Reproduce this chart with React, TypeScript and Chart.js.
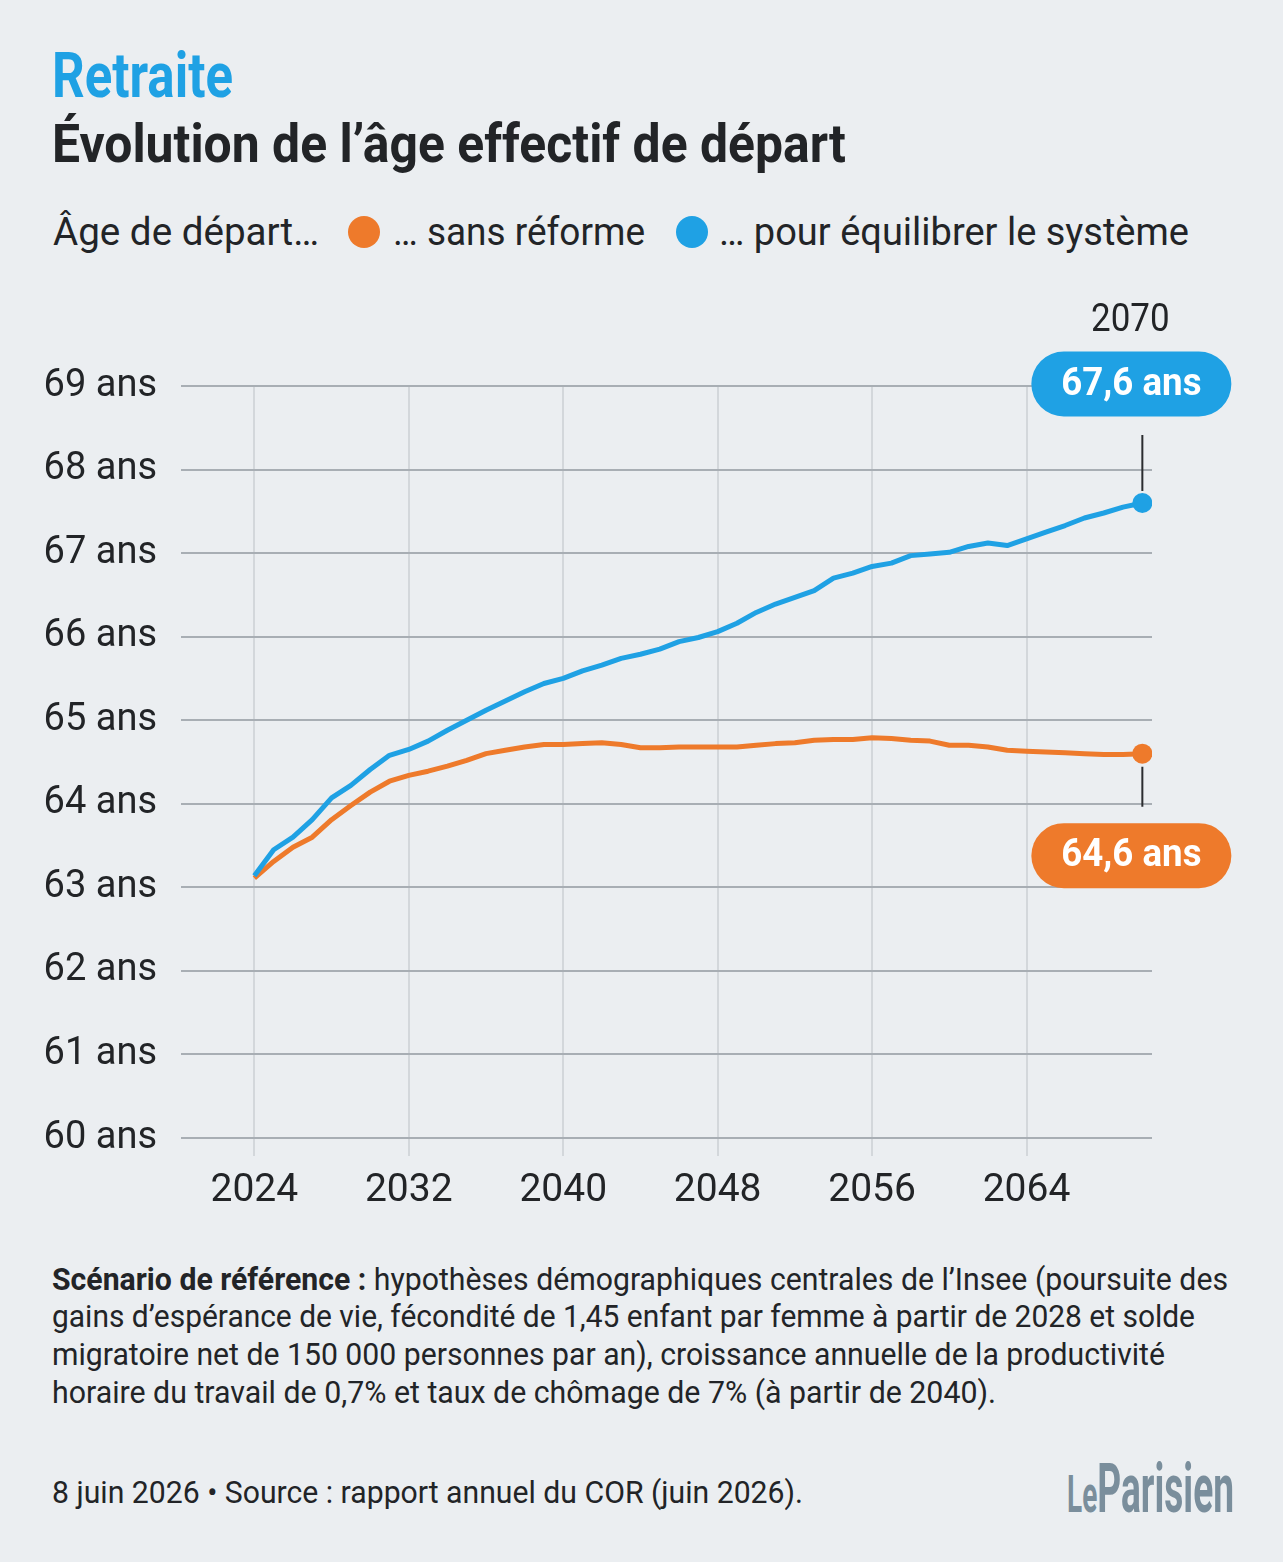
import React, { useEffect, useLayoutEffect, useRef } from "react";
import { Chart, registerables } from "chart.js";

Chart.register(...registerables);

// Years of the projection
const YEARS = [
  2024, 2025, 2026, 2027, 2028, 2029, 2030, 2031, 2032, 2033, 2034, 2035,
  2036, 2037, 2038, 2039, 2040, 2041, 2042, 2043, 2044, 2045, 2046, 2047,
  2048, 2049, 2050, 2051, 2052, 2053, 2054, 2055, 2056, 2057, 2058, 2059,
  2060, 2061, 2062, 2063, 2064, 2065, 2066, 2067, 2068, 2069, 2070,
];

// Effective retirement age needed to balance the system
const AGE_EQUILIBRE = [
  63.14, 63.45, 63.6, 63.81, 64.07, 64.22, 64.41, 64.58, 64.65, 64.75, 64.88, 65.0,
  65.12, 65.23, 65.34, 65.44, 65.5, 65.59, 65.66, 65.74, 65.79, 65.85, 65.94, 65.99,
  66.06, 66.16, 66.29, 66.39, 66.47, 66.55, 66.7, 66.76, 66.84, 66.88, 66.97, 66.99,
  67.01, 67.08, 67.12, 67.09, 67.17, 67.25, 67.33, 67.42, 67.48, 67.55, 67.6,
];

// Effective retirement age without reform
const AGE_SANS_REFORME = [
  63.11, 63.31, 63.48, 63.6, 63.81, 63.98, 64.14, 64.27, 64.34, 64.39, 64.45, 64.52,
  64.6, 64.64, 64.68, 64.71, 64.71, 64.72, 64.73, 64.71, 64.67, 64.67, 64.68, 64.68,
  64.68, 64.68, 64.7, 64.72, 64.73, 64.76, 64.77, 64.77, 64.79, 64.78, 64.76, 64.75,
  64.7, 64.7, 64.68, 64.64, 64.63, 64.62, 64.61, 64.6, 64.59, 64.59, 64.6,
];

const X_TICKS = [2024, 2032, 2040, 2048, 2056, 2064];
const Y_TICKS = [60, 61, 62, 63, 64, 65, 66, 67, 68, 69];

const BLUE = "#1fa1e4";
const ORANGE = "#ee7a2b";
const BG = "#ebeef1";
const INK = "#222427";

const ROBOTO = "Roboto, 'Noto Sans', sans-serif";

const fmtAge = (v: number) => v.toFixed(1).replace(".", ",") + " ans";

function roundRect(ctx: CanvasRenderingContext2D, x: number, y: number, w: number, h: number, r: number) {
  ctx.beginPath();
  ctx.moveTo(x + r, y);
  ctx.lineTo(x + w - r, y);
  ctx.arc(x + w - r, y + r, r, -Math.PI / 2, 0);
  ctx.lineTo(x + w, y + h - r);
  ctx.arc(x + w - r, y + h - r, r, 0, Math.PI / 2);
  ctx.lineTo(x + r, y + h);
  ctx.arc(x + r, y + h - r, r, Math.PI / 2, Math.PI);
  ctx.lineTo(x, y + r);
  ctx.arc(x + r, y + r, r, Math.PI, Math.PI * 1.5);
  ctx.closePath();
}

function condensedText(ctx: CanvasRenderingContext2D, text: string, x: number, y: number, sx: number) {
  ctx.save();
  ctx.translate(x, y);
  ctx.scale(sx, 1);
  ctx.fillText(text, 0, 0);
  ctx.restore();
}

// Draws the final-year labels: year on top, value pills joined to the end points
const endLabels = {
  id: "endLabels",
  afterDatasetsDraw(chart: any) {
    const ctx: CanvasRenderingContext2D = chart.ctx;
    const last = YEARS.length - 1;
    const pB = chart.getDatasetMeta(0).data[last];
    const pO = chart.getDatasetMeta(1).data[last];
    const pillW = 200;
    const pillH = 65;
    ctx.save();

    // connectors
    ctx.strokeStyle = "#2b2d30";
    ctx.lineWidth = 2;
    ctx.beginPath();
    ctx.moveTo(pB.x, pB.y - 68);
    ctx.lineTo(pB.x, pB.y - 12);
    ctx.moveTo(pO.x, pO.y + 13);
    ctx.lineTo(pO.x, pO.y + 53);
    ctx.stroke();

    // year
    ctx.fillStyle = INK;
    ctx.font = `38px ${ROBOTO}`;
    ctx.textAlign = "center";
    ctx.textBaseline = "middle";
    condensedText(ctx, String(YEARS[last]), pB.x - 12, pB.y - 181, 0.92);

    // blue pill
    const bcx = pB.x - 11;
    const bcy = pB.y - 119;
    roundRect(ctx, bcx - pillW / 2, bcy - pillH / 2, pillW, pillH, pillH / 2);
    ctx.fillStyle = BLUE;
    ctx.fill();
    ctx.fillStyle = "#ffffff";
    ctx.font = `bold 39px ${ROBOTO}`;
    condensedText(ctx, fmtAge(AGE_EQUILIBRE[last]), bcx, bcy + 1, 0.94);

    // orange pill
    const ocx = pO.x - 11;
    const ocy = pO.y + 102;
    roundRect(ctx, ocx - pillW / 2, ocy - pillH / 2, pillW, pillH, pillH / 2);
    ctx.fillStyle = ORANGE;
    ctx.fill();
    ctx.fillStyle = "#ffffff";
    condensedText(ctx, fmtAge(AGE_SANS_REFORME[last]), ocx, ocy + 1, 0.94);

    ctx.restore();
  },
};

// Text squeezed horizontally to a given width (condensed look)
function Fit(props: {
  left: number;
  top: number;
  width: number;
  size: number;
  weight?: number;
  color?: string;
  children: React.ReactNode;
}) {
  const ref = useRef<HTMLSpanElement | null>(null);
  useLayoutEffect(() => {
    const el = ref.current;
    if (!el) return;
    el.style.transform = "none";
    const w = el.getBoundingClientRect().width;
    if (w > 0) el.style.transform = `scaleX(${props.width / w})`;
  });
  return (
    <span
      ref={ref}
      style={{
        position: "absolute",
        left: props.left,
        top: props.top,
        display: "inline-block",
        whiteSpace: "nowrap",
        transformOrigin: "left top",
        fontFamily: ROBOTO,
        fontSize: props.size,
        lineHeight: `${props.size}px`,
        fontWeight: props.weight ?? 400,
        color: props.color ?? INK,
      }}
    >
      {props.children}
    </span>
  );
}

export default function App() {
  const canvasRef = useRef<HTMLCanvasElement | null>(null);

  useEffect(() => {
    const canvas = canvasRef.current;
    if (!canvas) return;
    const last = YEARS.length - 1;
    const endRadius = (c: any) => (c.dataIndex === last ? 10 : 0);

    const chart = new Chart(canvas, {
      type: "line",
      data: {
        datasets: [
          {
            label: "… pour équilibrer le système",
            data: YEARS.map((x, i) => ({ x, y: AGE_EQUILIBRE[i] })),
            borderColor: BLUE,
            backgroundColor: BLUE,
            borderWidth: 5,
            pointRadius: endRadius,
            pointBorderWidth: 0,
            pointHoverRadius: endRadius,
            borderJoinStyle: "round",
            tension: 0,
          },
          {
            label: "… sans réforme",
            data: YEARS.map((x, i) => ({ x, y: AGE_SANS_REFORME[i] })),
            borderColor: ORANGE,
            backgroundColor: ORANGE,
            borderWidth: 5,
            pointRadius: endRadius,
            pointBorderWidth: 0,
            pointHoverRadius: endRadius,
            borderJoinStyle: "round",
            tension: 0,
          },
        ],
      },
      options: {
        responsive: false,
        animation: false,
        events: [],
        layout: { padding: { top: 106, right: 131, bottom: 2, left: 0 } },
        plugins: {
          legend: { display: false },
          tooltip: { enabled: false },
          title: { display: false },
        },
        scales: {
          x: {
            type: "linear",
            min: 2020.2,
            max: 2070.5,
            afterFit: (s: any) => {
              s.height = 100;
            },
            afterBuildTicks: (s: any) => {
              s.ticks = X_TICKS.map((v) => ({ value: v }));
            },
            border: { display: false },
            grid: {
              color: "#d3d7db",
              lineWidth: 2,
              drawTicks: true,
              tickLength: 18,
              tickColor: "#d3d7db",
            },
            ticks: {
              font: { family: ROBOTO, size: 39 },
              color: INK,
              padding: 12,
              maxRotation: 0,
              callback: (v: any) => String(v),
            },
          },
          y: {
            type: "linear",
            min: 60,
            max: 69,
            afterFit: (s: any) => {
              s.width = 181;
            },
            afterBuildTicks: (s: any) => {
              s.ticks = Y_TICKS.map((v) => ({ value: v }));
            },
            border: { display: false },
            grid: {
              color: "#a8aeb4",
              lineWidth: 2,
              drawTicks: false,
            },
            ticks: {
              font: { family: ROBOTO, size: 38 },
              color: INK,
              padding: 24,
              callback: (v: any) => `${v} ans`,
            },
          },
        },
      },
      plugins: [endLabels],
    } as any);

    return () => chart.destroy();
  }, []);

  const dot = (left: number, color: string): React.CSSProperties => ({
    position: "absolute",
    left,
    top: 216,
    width: 32,
    height: 32,
    borderRadius: "50%",
    background: color,
  });

  return (
    <div
      style={{
        position: "absolute",
        left: 0,
        top: 0,
        width: 1283,
        height: 1562,
        background: BG,
        overflow: "hidden",
        color: INK,
      }}
    >
      <Fit left={52} top={44} width={181} size={63} weight={700} color={BLUE}>
        Retraite
      </Fit>
      <Fit left={52} top={118} width={794} size={53} weight={700}>
        Évolution de l’âge effectif de départ
      </Fit>

      <Fit left={53} top={213} width={266} size={38}>
        Âge de départ…
      </Fit>
      <div style={dot(348, ORANGE)} />
      <Fit left={393} top={213} width={252} size={38}>
        … sans réforme
      </Fit>
      <div style={dot(676, BLUE)} />
      <Fit left={719} top={213} width={470} size={38}>
        … pour équilibrer le système
      </Fit>

      <div style={{ position: "absolute", left: 0, top: 280, width: 1283, height: 960 }}>
        <canvas ref={canvasRef} width={1283} height={960} style={{ display: "block", width: 1283, height: 960 }} />
      </div>

      <Fit left={52} top={1264} width={1176} size={31}>
        <b>Scénario de référence :</b> hypothèses démographiques centrales de l’Insee (poursuite des
      </Fit>
      <Fit left={52} top={1301} width={1143} size={31}>
        gains d’espérance de vie, fécondité de 1,45 enfant par femme à partir de 2028 et solde
      </Fit>
      <Fit left={52} top={1339} width={1113} size={31}>
        migratoire net de 150 000 personnes par an), croissance annuelle de la productivité
      </Fit>
      <Fit left={52} top={1377} width={944} size={31}>
        horaire du travail de 0,7% et taux de chômage de 7% (à partir de 2040).
      </Fit>

      <Fit left={52} top={1477} width={751} size={31}>
        8 juin 2026 • Source : rapport annuel du COR (juin 2026).
      </Fit>

      <Fit left={1067} top={1454} width={167} size={69} weight={700} color="#7a8e9c">
        <span style={{ fontSize: 52 }}>Le</span>
        <span>Parisien</span>
      </Fit>
    </div>
  );
}
